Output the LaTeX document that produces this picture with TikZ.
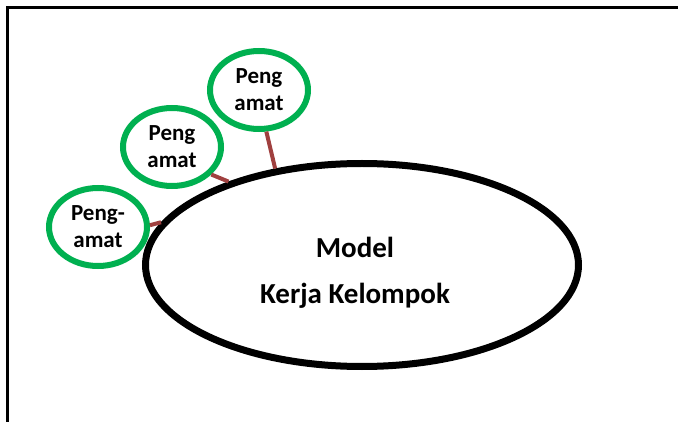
\documentclass[tikz,border=0pt]{standalone}
\usepackage{fontspec}
\setmainfont{Carlito}
\usetikzlibrary{shapes.geometric}
\definecolor{obsgreen}{HTML}{00B050}
\definecolor{linkbrown}{HTML}{A0403F}
\begin{document}
\begin{tikzpicture}[x=1pt,y=-1pt,
  observer/.style={ellipse,draw=obsgreen,line width=6pt,inner sep=0pt,
    minimum width=98pt,minimum height=78pt,align=center,
    font=\fontsize{23}{27}\selectfont\bfseries},
  model/.style={ellipse,draw=black,line width=7pt,inner sep=0pt,
    minimum width=433pt,minimum height=203pt},
  modeltext/.style={align=center,font=\fontsize{29}{46}\selectfont\bfseries},
  link/.style={draw=linkbrown,line width=4pt}]
\useasboundingbox (0,0) rectangle (678,422);
% frame
\draw[line width=3pt] (7,422) -- (7,8) -- (678,8);
% nodes
\node[model] (big) at (362,265) {};
\node[modeltext] (bigtext) at (355,273) {Model\\Kerja Kelompok};
\node[observer] (a) at (98,227) {Peng-\\amat};
\node[observer] (b) at (172,147) {Peng\\amat};
\node[observer] (c) at (259,90) {Peng\\amat};
% connectors
\path[link] (a.2) -- (big.168);
\path[link] (b.-35) -- (big.148);
\path[link] (c.-80) -- (big.132);
\end{tikzpicture}
\end{document}
